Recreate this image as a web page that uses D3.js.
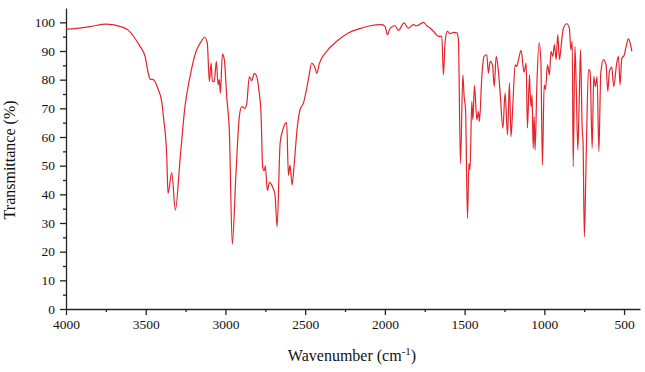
<!DOCTYPE html>
<html>
<head>
<meta charset="utf-8">
<script src="https://cdn.jsdelivr.net/npm/d3@7"></script>
<style>
  body { margin: 0; background: #fff; }
  svg { display: block; }
  .axis text { font-family: "Liberation Serif", "Times New Roman", serif; font-size: 13.5px; fill: #111; }
  .axis path, .axis line { stroke: #222; stroke-width: 1.3px; }
  .title { font-family: "Liberation Serif", "Times New Roman", serif; font-size: 16px; fill: #111; }
</style>
</head>
<body>
<div id="chart"></div>
<script>
// spectrum (wavenumber in cm-1, transmittance in %)
var wavenumber = [4000, 3933, 3850, 3745, 3651, 3609, 3536, 3504, 3484, 3473, 3452, 3421, 3400, 3389, 3368, 3360,
  3337, 3314, 3285, 3254, 3222, 3184, 3150, 3132, 3114, 3101, 3090, 3082, 3070, 3057, 3046, 3038, 3032, 3019,
  3007, 2992, 2975, 2957, 2934, 2913, 2898, 2877, 2866, 2850, 2835, 2820, 2808, 2789, 2777, 2766, 2756, 2750,
  2737, 2724, 2703, 2689, 2676, 2657, 2637, 2616, 2605, 2595, 2582, 2570, 2549, 2532, 2511, 2480, 2459, 2438,
  2427, 2411, 2365, 2302, 2229, 2156, 2093, 2020, 1999, 1984, 1967, 1936, 1915, 1880, 1853, 1821, 1800, 1758,
  1737, 1717, 1696, 1664, 1643, 1633, 1622, 1608, 1591, 1570, 1549, 1539, 1526, 1511, 1503, 1494, 1482, 1473,
  1466, 1455, 1448, 1438, 1423, 1413, 1407, 1392, 1378, 1361, 1351, 1340, 1325, 1314, 1302, 1287, 1277, 1260,
  1246, 1231, 1219, 1209, 1198, 1183, 1173, 1162, 1146, 1127, 1114, 1106, 1093, 1089, 1083, 1077, 1070, 1064,
  1058, 1047, 1033, 1022, 1012, 1001, 993, 980, 968, 958, 947, 937, 926, 916, 905, 895, 880, 859, 843, 834,
  825, 819, 808, 800, 790, 781, 773, 763, 757, 749, 738, 723, 713, 700, 690, 680, 669, 658, 646, 629, 613,
  602, 592, 577, 565, 546, 535, 525, 514, 500, 487, 473, 462, 451];
var transmittance = [97.6, 97.9, 98.5, 99.4, 98.4, 97.2, 91.6, 88.1, 82.3, 80.2, 80.0, 76.5, 72.5, 67.1, 53.1, 40.3,
  47.6, 34.5, 52.0, 70.5, 81.1, 89.9, 93.5, 94.8, 92.8, 79.4, 85.8, 79.4, 79.4, 86.4, 78.2, 80.0, 75.3, 88.9,
  87.0, 74.1, 61.3, 22.6, 47.3, 67.1, 70.6, 70.0, 71.8, 81.1, 79.6, 82.1, 81.7, 75.9, 68.3, 49.1, 48.3, 49.9,
  41.3, 44.2, 42.4, 39.8, 28.7, 57.8, 63.1, 65.0, 46.7, 50.2, 43.3, 49.7, 63.6, 69.5, 71.8, 80.0, 85.7, 84.1,
  82.2, 85.6, 89.9, 93.4, 96.3, 97.8, 98.8, 99.2, 98.6, 95.7, 98.0, 98.8, 97.2, 99.8, 98.0, 99.2, 98.8, 100.0,
  98.8, 98.0, 96.9, 95.1, 95.1, 81.7, 93.4, 96.9, 96.0, 96.5, 96.3, 94.0, 50.8, 81.7, 74.1, 69.5, 31.6, 50.8,
  48.5, 72.4, 66.0, 77.9, 66.0, 68.9, 65.4, 81.1, 88.1, 88.7, 82.3, 86.4, 85.2, 77.6, 88.1, 82.3, 75.3, 63.1,
  75.3, 60.7, 78.8, 60.1, 70.6, 85.2, 84.6, 87.0, 90.2, 82.6, 85.8, 63.1, 81.7, 75.3, 70.6, 74.7, 56.1, 67.1,
  55.5, 77.6, 92.8, 87.0, 50.2, 78.2, 76.5, 85.2, 81.7, 89.9, 88.1, 92.2, 87.0, 95.7, 87.0, 91.6, 98.0, 99.5,
  98.0, 90.5, 93.4, 49.7, 91.6, 77.6, 55.5, 73.0, 90.5, 63.6, 57.8, 25.2, 52.0, 83.5, 82.9, 56.1, 81.1, 77.6,
  81.1, 54.9, 82.3, 87.0, 85.2, 75.9, 82.9, 84.4, 77.6, 85.8, 88.1, 78.2, 87.5, 88.4, 91.6, 94.2, 92.8, 89.9];
var xTicks = [4000, 3500, 3000, 2500, 2000, 1500, 1000, 500];
var yTicks = [0, 10, 20, 30, 40, 50, 60, 70, 80, 90, 100];

var width = 645, height = 372;
var margin = {top: 8, right: 5, bottom: 63, left: 66};

var svg = d3.select("#chart")
    .append("svg")
    .attr("width", width)
    .attr("height", height);

var x = d3.scaleLinear()
    .domain([4000, 400])
    .range([margin.left, width - margin.right]);

var y = d3.scaleLinear()
    .domain([0, 105])
    .range([height - margin.bottom, margin.top]);

// minor ticks first, then the labelled axes on top
svg.append("g")
    .attr("class", "axis")
    .attr("transform", "translate(0," + (height - margin.bottom) + ")")
    .call(d3.axisBottom(x).tickValues(d3.range(3750, 400, -500)).tickSize(3).tickFormat(""))
    .select(".domain").remove();

svg.append("g")
    .attr("class", "axis")
    .attr("transform", "translate(" + margin.left + ",0)")
    .call(d3.axisLeft(y).tickValues(d3.range(5, 105, 10)).tickSize(3).tickFormat(""))
    .select(".domain").remove();

svg.append("g")
    .attr("class", "axis")
    .attr("transform", "translate(0," + (height - margin.bottom) + ")")
    .call(d3.axisBottom(x).tickValues(xTicks).tickSize(6).tickSizeOuter(0).tickPadding(4).tickFormat(d3.format("d")));

svg.append("g")
    .attr("class", "axis")
    .attr("transform", "translate(" + margin.left + ",0)")
    .call(d3.axisLeft(y).tickValues(yTicks).tickSize(6).tickSizeOuter(0).tickPadding(5).tickFormat(d3.format("d")));

var points = wavenumber.map(function (w, i) { return [w, transmittance[i]]; });

var line = d3.line()
    .x(function (d) { return x(d[0]); })
    .y(function (d) { return y(d[1]); })
    .curve(d3.curveMonotoneX);

svg.append("path")
    .datum(points)
    .attr("fill", "none")
    .attr("stroke", "#e4242b")
    .attr("stroke-width", 1.2)
    .attr("d", line);

// axis titles
var xTitle = svg.append("text")
    .attr("class", "title")
    .attr("x", 352)
    .attr("y", 361)
    .attr("text-anchor", "middle");
xTitle.append("tspan").text("Wavenumber (cm");
xTitle.append("tspan").attr("dy", -6).attr("font-size", "11px").text("-1");
xTitle.append("tspan").attr("dy", 6).text(")");

svg.append("text")
    .attr("class", "title")
    .attr("text-anchor", "middle")
    .attr("transform", "translate(15," + y(52) + ") rotate(-90)")
    .text("Transmittance (%)");
</script>
</body>
</html>
